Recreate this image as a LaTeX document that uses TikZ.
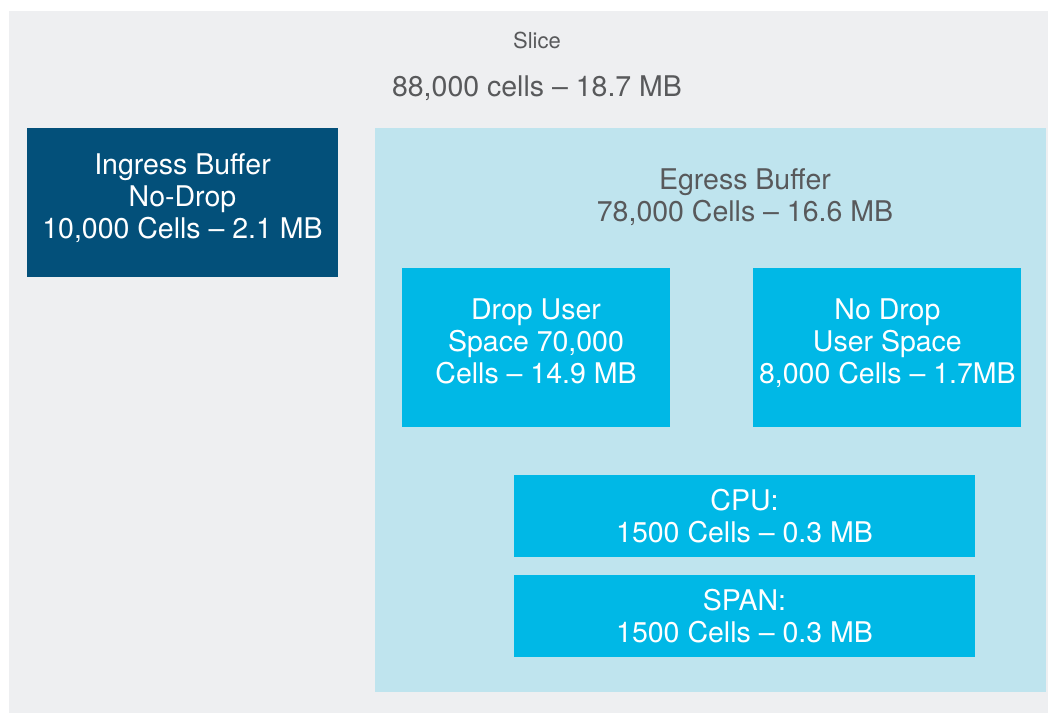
\documentclass[tikz,border=0pt]{standalone}
\usepackage{fontspec}
\setmainfont{TeX Gyre Heros}
\usetikzlibrary{positioning}

\definecolor{slicegrey}{HTML}{EEEFF1}
\definecolor{ingblue}{HTML}{03507A}
\definecolor{egrblue}{HTML}{BFE4EE}
\definecolor{cellblue}{HTML}{00B8E6}
\definecolor{textgrey}{HTML}{58595B}

\begin{document}
\begin{tikzpicture}[x=1pt,y=-1pt,every node/.style={font=\fontsize{28.5}{32}\selectfont,inner sep=0pt}]
\useasboundingbox (0,0) rectangle (1052,715);

\node[fill=slicegrey,minimum width=1039pt,minimum height=702pt,anchor=north west] (slice) at (9,11) {};
\node[font=\fontsize{22}{25}\selectfont,text=textgrey] (slicelbl) at (537,40) {Slice};
\node[text=textgrey] (total) at (537,88) {88,000 cells -- 18.7 MB};

\node[fill=ingblue,text=white,minimum width=311pt,minimum height=149pt,align=center,text depth=13pt] (ing) at (182.5,202.5) {Ingress Buffer\\No-Drop\\10,000 Cells -- 2.1 MB};

\node[fill=egrblue,minimum width=671pt,minimum height=564pt] (egr) at (710.5,410) {};
\node[text=textgrey,align=center] (egrlbl) at (745,197) {Egress Buffer\\78,000 Cells -- 16.6 MB};

\node[fill=cellblue,text=white,minimum width=268pt,minimum height=159pt,align=center,text depth=12pt] (drop) at (536,347.5) {Drop User\\Space 70,000\\Cells -- 14.9 MB};
\node[fill=cellblue,text=white,minimum width=268pt,minimum height=159pt,align=center,text depth=12pt,right=83pt of drop] (nodrop) {No Drop\\User Space\\8,000 Cells -- 1.7MB};

\node[fill=cellblue,text=white,minimum width=461pt,minimum height=82pt,align=center] (cpu) at (744.5,516) {CPU:\\1500 Cells -- 0.3 MB};
\node[fill=cellblue,text=white,minimum width=461pt,minimum height=82pt,align=center,below=18pt of cpu] (span) {SPAN:\\1500 Cells -- 0.3 MB};
\end{tikzpicture}
\end{document}
